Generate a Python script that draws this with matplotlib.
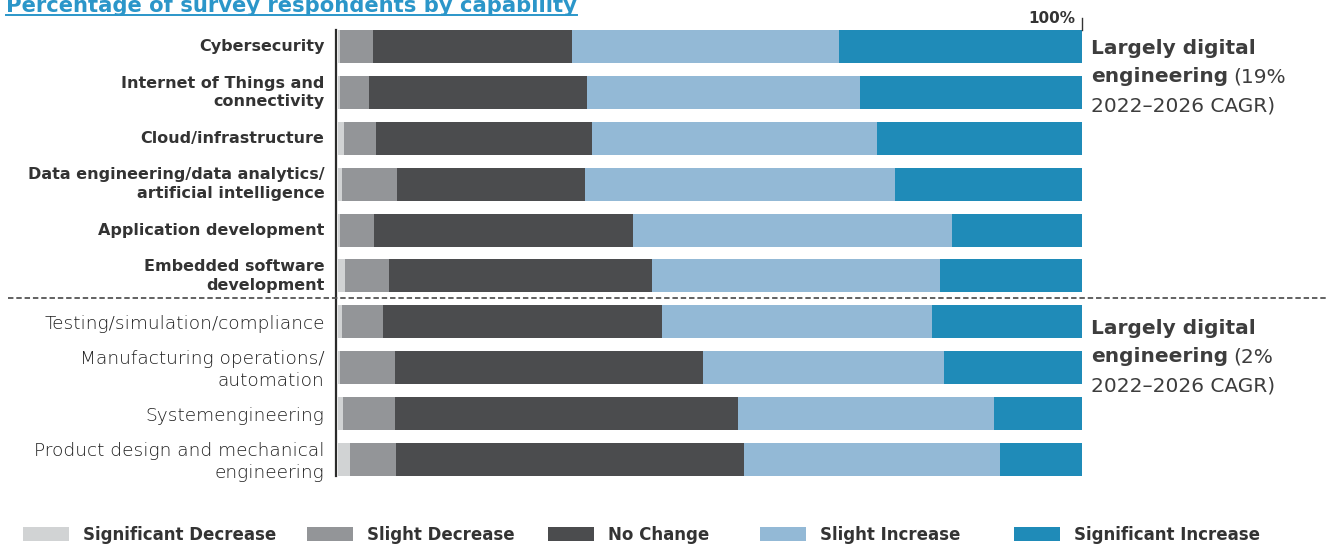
import matplotlib
matplotlib.use("Agg")
import matplotlib.pyplot as plt
from matplotlib.lines import Line2D
from matplotlib.patches import Rectangle
import matplotlib.transforms as mtransforms

plt.rcParams['font.family'] = ['DejaVu Sans']

# capabilities, top to bottom
capabilities = [
    "Cybersecurity",
    "Internet of Things and\nconnectivity",
    "Cloud/infrastructure",
    "Data engineering/data analytics/\nartificial intelligence",
    "Application development",
    "Embedded software\ndevelopment",
    "Testing/simulation/compliance",
    "Manufacturing operations/\nautomation",
    "Systemengineering",
    "Product design and mechanical\nengineering",
]
n_digital = 6  # first six are the bold "largely digital" group

# percentages of respondents
sig_decrease = [0.3, 0.3, 0.8, 0.5, 0.3, 0.9, 0.5, 0.3, 0.7, 1.6]
slight_decrease = [4.4, 3.9, 4.3, 7.4, 4.6, 6.0, 5.6, 7.3, 7.0, 6.2]
no_change = [26.8, 29.3, 29.0, 25.3, 34.7, 35.3, 37.5, 41.4, 46.1, 46.8]
slight_increase = [35.9, 36.7, 38.3, 41.7, 42.9, 38.7, 36.3, 32.5, 34.4, 34.4]
sig_increase = [32.6, 29.8, 27.6, 25.1, 17.5, 19.1, 20.1, 18.5, 11.8, 11.0]

series_names = ["Significant Decrease", "Slight Decrease", "No Change",
                "Slight Increase", "Significant Increase"]
series = [sig_decrease, slight_decrease, no_change, slight_increase, sig_increase]
colors = ["#d1d3d4", "#939598", "#4b4c4e", "#93b9d6", "#1f8bb8"]

W, H = 1327, 545
fig = plt.figure(figsize=(W / 100, H / 100), dpi=100)
ax = fig.add_axes([338 / W, 1 - 476 / H, 744 / W, 446 / H])

ypos = list(range(len(capabilities)))
left = [0.0] * len(capabilities)
for vals, col in zip(series, colors):
    ax.barh(ypos, vals, left=left, height=0.72, color=col, linewidth=0)
    left = [l + v for l, v in zip(left, vals)]

ax.set_xlim(0, 100)
ax.set_ylim(len(capabilities) - 1 + 0.36, -0.36)
ax.set_xticks([])
ax.set_yticks([])
for s in ["top", "right", "bottom"]:
    ax.spines[s].set_visible(False)
ax.spines["left"].set_position(("outward", 1.5))
ax.spines["left"].set_linewidth(1.6)
ax.spines["left"].set_color("#2b2b2b")

# category labels
trans = mtransforms.blended_transform_factory(ax.transAxes, ax.transData)
for i, lab in enumerate(capabilities):
    if i < n_digital:
        ax.text(-0.018, i, lab, transform=trans, ha="right", va="center",
                fontsize=11.5, fontweight="bold", color="#333333", linespacing=1.3)
    else:
        ax.text(-0.018, i + 0.05, lab, transform=trans, ha="right", va="center",
                fontsize=13.3, fontweight="light", color="#1e1e1e", linespacing=1.25)

# 100% marker
ax.plot([100, 100], [-0.36, -0.62], color="#333333", lw=1, clip_on=False)
ax.text(99.1, -0.6, "100%", ha="right", va="center", fontsize=11,
        fontweight="semibold", color="#333333")

# dashed divider between the two groups
fig.add_artist(Line2D([8 / W, 1], [1 - 298 / H, 1 - 298 / H], color="#555555",
                      lw=1.3, linestyle=(0, (3, 1.6))))

# right side notes
note_x = 1091 / W
for top, pct in [(48, "19%"), (328, "2%")]:
    fig.text(note_x, 1 - top / H, "Largely digital", fontsize=14.5,
             fontweight="bold", color="#3d3d3d", va="center")
    t = fig.text(note_x, 1 - (top + 29) / H, "engineering", fontsize=14.5,
                 fontweight="bold", color="#3d3d3d", va="center")
    fig.canvas.draw()
    bb = t.get_window_extent()
    fig.text(bb.x1 / W + 5 / W, 1 - (top + 29) / H, "(" + pct, fontsize=14.5,
             color="#3d3d3d", va="center")
    fig.text(note_x, 1 - (top + 58) / H, "2022\u20132026 CAGR)", fontsize=14.5,
             color="#3d3d3d", va="center")

# title, clipped at the top edge like the source
title = fig.text(6 / W, 1 - 12.5 / H, "Percentage of survey respondents by capability",
                 fontsize=15.2, fontweight="bold", color="#2b96c9", va="baseline")
fig.canvas.draw()
tb = title.get_window_extent()
fig.add_artist(Line2D([tb.x0 / W, tb.x1 / W], [1 - 15 / H, 1 - 15 / H],
                      color="#2b96c9", lw=1.4))

# legend along the bottom
patch_x = [23, 307, 548, 760, 1014]
for px, name, col in zip(patch_x, series_names, colors):
    fig.add_artist(Rectangle((px / W, 1 - 541 / H), 46 / W, 14 / H,
                             transform=fig.transFigure, color=col, lw=0))
    fig.text((px + 60) / W, 1 - 535 / H, name, fontsize=12, fontweight="bold",
             color="#333333", va="center")

fig.savefig("out.png", dpi=100)
